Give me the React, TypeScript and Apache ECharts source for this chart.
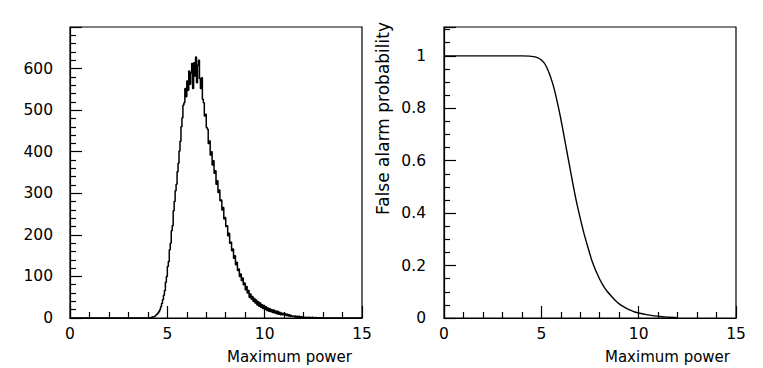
import React, { useEffect, useRef } from "react";
import * as echarts from "echarts";

// ---- Left panel: histogram of maximum power (bin width 0.05 starting at 3.90)
const HIST_START = 3.9;
const HIST_BIN = 0.05;
const histCounts: number[] = [
  0, 0, 0, 1, 0, 1, 2, 1, 3, 4,
  5, 7, 9, 12, 15, 20, 27, 35, 44, 55,
  66, 86, 100, 124, 136, 164, 180, 210, 222, 258,
  280, 306, 322, 352, 372, 402, 425, 460, 482, 512,
  518, 552, 532, 570, 548, 594, 562, 590, 612, 552,
  614, 582, 628, 566, 608, 620, 576, 552, 578, 526,
  518, 486, 490, 458, 454, 420, 426, 392, 400, 368,
  378, 348, 354, 322, 330, 302, 308, 282, 284, 260,
  266, 238, 242, 220, 222, 198, 204, 180, 182, 162,
  166, 144, 150, 128, 134, 114, 118, 100, 106, 90,
  96, 80, 84, 68, 76, 60, 66, 50, 58, 46,
  52, 40, 47, 36, 43, 31, 39, 28, 36, 25,
  32, 23, 30, 21, 27, 18, 24, 16, 22, 15,
  20, 13, 19, 12, 17, 10, 16, 9, 14, 8,
  12, 8, 11, 7, 10, 6, 9, 5, 8, 4,
  6, 4, 5, 3, 5, 2, 4, 2, 4, 1,
  3, 1, 3, 1, 2, 1, 2, 0, 2, 1,
  1, 0, 2, 0, 1, 1, 0, 1, 0, 1,
  0, 1, 0,
];

// ---- Right panel: false alarm probability vs maximum power
const faPower: number[] = [
  0, 4.0, 4.4, 4.6, 4.8, 5.0, 5.2, 5.4, 5.6, 5.8, 6.0, 6.2, 6.4, 6.6, 6.8,
  7.0, 7.2, 7.4, 7.6, 7.8, 8.0, 8.2, 8.4, 8.6, 8.8, 9.0, 9.2, 9.4, 9.6, 9.8,
  10.0, 10.4, 10.8, 11.2, 11.6, 12.0,
];
const faProb: number[] = [
  1, 1, 0.999, 0.997, 0.993, 0.984, 0.967, 0.935, 0.89, 0.83, 0.76, 0.68, 0.6,
  0.52, 0.445, 0.38, 0.32, 0.268, 0.218, 0.18, 0.148, 0.121, 0.1, 0.083,
  0.067, 0.054, 0.044, 0.036, 0.029, 0.023, 0.019, 0.013, 0.008, 0.005, 0.003,
  0.001,
];

const xTicks = [0, 5, 10, 15];
const xTitle = "Maximum power";
const yTitleRight = "False alarm probability";

const FONT = "DejaVu Sans";
const BLACK = "#000";
const PLOT_W = 292;

function xAxisFor(gridIndex: number) {
  return {
    type: "value",
    gridIndex,
    min: xTicks[0],
    max: xTicks[xTicks.length - 1],
    interval: xTicks[1] - xTicks[0],
    axisLine: { show: true, lineStyle: { color: BLACK, width: 1.2 } },
    axisTick: { show: true, inside: true, length: 12, lineStyle: { color: BLACK, width: 1.2 } },
    minorTick: { show: true, splitNumber: 5, length: 6, lineStyle: { color: BLACK, width: 1.2 } },
    splitLine: { show: false },
    minorSplitLine: { show: false },
    axisLabel: { color: BLACK, fontFamily: FONT, fontSize: 15.5, margin: 8 },
  };
}

export default function App() {
  const ref = useRef<HTMLDivElement>(null);

  useEffect(() => {
    if (!ref.current) return;
    const chart = echarts.init(ref.current, null, { renderer: "svg" });

    const histData = [
      [0, 0],
      ...histCounts.map((c, i) => [+(HIST_START + i * HIST_BIN).toFixed(2), c]),
      [15, 0],
    ];
    const faData = faPower.map((p, i) => [p, faProb[i]]);

    const option: any = {
      animation: false,
      backgroundColor: "#fff",
      grid: [
        { left: 70, top: 27, width: PLOT_W, height: 291, show: true, borderColor: BLACK, borderWidth: 1.2, backgroundColor: "transparent" },
        { left: 444, top: 27, width: PLOT_W, height: 291, show: true, borderColor: BLACK, borderWidth: 1.2, backgroundColor: "transparent" },
      ],
      xAxis: [xAxisFor(0), xAxisFor(1)],
      yAxis: [
        {
          type: "value",
          gridIndex: 0,
          position: "left",
          min: 0,
          max: 700,
          interval: 100,
          axisLine: { show: true, onZero: false, lineStyle: { color: BLACK, width: 1.2 } },
          axisTick: { show: true, inside: true, length: 12, lineStyle: { color: BLACK, width: 1.2 } },
          minorTick: { show: true, splitNumber: 5, length: 6, lineStyle: { color: BLACK, width: 1.2 } },
          splitLine: { show: false },
          axisLabel: { color: BLACK, fontFamily: FONT, fontSize: 15.5, margin: 17, showMaxLabel: false },
        },
        {
          type: "value",
          gridIndex: 1,
          position: "left",
          min: 0,
          max: 1.11,
          interval: 0.2,
          axisLine: { show: true, onZero: false, lineStyle: { color: BLACK, width: 1.2 } },
          axisTick: { show: true, inside: true, length: 12, lineStyle: { color: BLACK, width: 1.2 } },
          minorTick: { show: true, splitNumber: 4, length: 6, lineStyle: { color: BLACK, width: 1.2 } },
          splitLine: { show: false },
          axisLabel: { color: BLACK, fontFamily: FONT, fontSize: 15.5, margin: 18, showMaxLabel: false },
        },
      ],
      series: [
        {
          type: "line",
          xAxisIndex: 0,
          yAxisIndex: 0,
          data: histData,
          step: "start",
          showSymbol: false,
          symbol: "none",
          lineStyle: { color: BLACK, width: 1.5 },
        },
        {
          type: "line",
          xAxisIndex: 1,
          yAxisIndex: 1,
          data: faData,
          smooth: 0.2,
          showSymbol: false,
          symbol: "none",
          lineStyle: { color: BLACK, width: 1.4 },
        },
      ],
      graphic: [
        {
          type: "text",
          x: 352,
          y: 357,
          style: { text: xTitle, fill: BLACK, font: `15px "${FONT}"`, textAlign: "right", textVerticalAlign: "middle" },
        },
        {
          type: "text",
          x: 730,
          y: 357,
          style: { text: xTitle, fill: BLACK, font: `15px "${FONT}"`, textAlign: "right", textVerticalAlign: "middle" },
        },
        {
          type: "text",
          x: 383,
          y: 22,
          rotation: Math.PI / 2,
          style: { text: yTitleRight, fill: BLACK, font: `17px "${FONT}"`, textAlign: "right", textVerticalAlign: "middle" },
        },
      ],
    };

    chart.setOption(option);
    return () => chart.dispose();
  }, []);

  return (
    <div
      ref={ref}
      style={{ position: "fixed", left: 0, top: 0, width: 763, height: 368, background: "#fff" }}
    />
  );
}
